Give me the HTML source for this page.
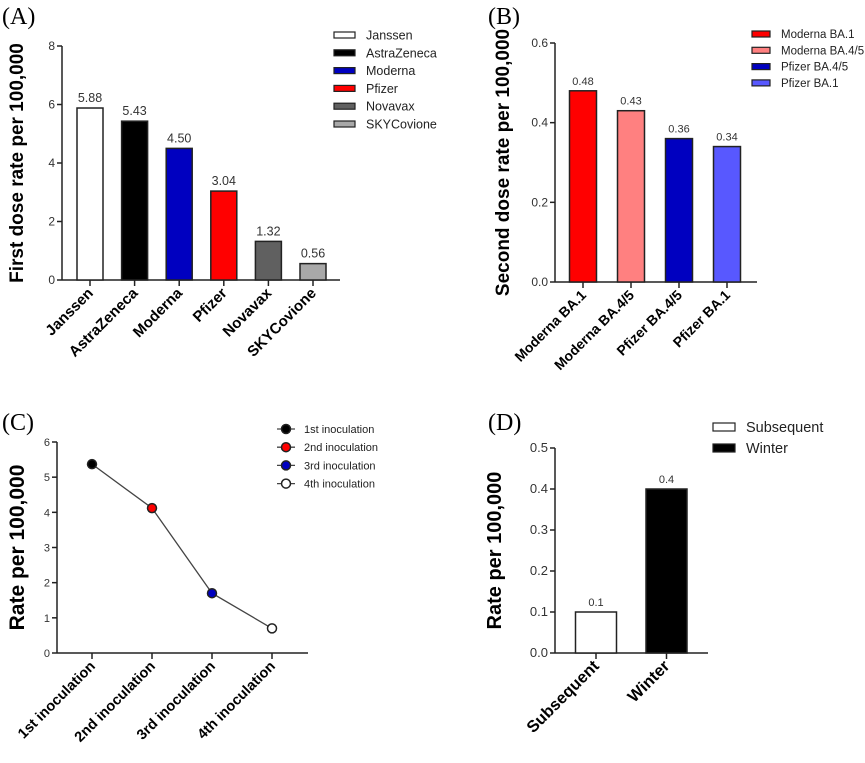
<!DOCTYPE html>
<html><head><meta charset="utf-8"><style>
body{margin:0;background:#fff;}
svg{display:block;font-family:"Liberation Sans",Arial,sans-serif;}
.pl{font-family:"Liberation Serif",serif;font-size:24px;fill:#000;}
</style></head><body>
<svg id="s" width="865" height="763" viewBox="0 0 865 763" xmlns="http://www.w3.org/2000/svg">
<text class="pl" x="2" y="24">(A)</text>
<text class="pl" x="488" y="24">(B)</text>
<text class="pl" x="2" y="430">(C)</text>
<text class="pl" x="488" y="430">(D)</text>
</svg>
<script>
const aCats=["Janssen","AstraZeneca","Moderna","Pfizer","Novavax","SKYCovione"];
const aVals=[5.88,5.43,4.50,3.04,1.32,0.56];
const aLabels=["5.88","5.43","4.50","3.04","1.32","0.56"];
const aTicks=[0,2,4,6,8];
const aColors=["#ffffff","#000000","#0000c0","#ff0000","#606060","#a8a8a8"];

const bCats=["Moderna BA.1","Moderna BA.4/5","Pfizer BA.4/5","Pfizer BA.1"];
const bVals=[0.48,0.43,0.36,0.34];
const bLabels=["0.48","0.43","0.36","0.34"];
const bTicks=["0.0","0.2","0.4","0.6"];
const bColors=["#ff0000","#ff8080","#0000c0","#5858ff"];

const cCats=["1st inoculation","2nd inoculation","3rd inoculation","4th inoculation"];
const cVals=[5.37,4.12,1.70,0.70];
const cTicks=[0,1,2,3,4,5,6];
const cColors=["#000000","#ff0000","#0000c0","#ffffff"];

const dCats=["Subsequent","Winter"];
const dVals=[0.1,0.4];
const dLabels=["0.1","0.4"];
const dTicks=["0.0","0.1","0.2","0.3","0.4","0.5"];
const dColors=["#ffffff","#000000"];

const svg=document.getElementById('s');
const NS="http://www.w3.org/2000/svg";
function mk(tag,attrs,parent,txt){const e=document.createElementNS(NS,tag);for(const k in attrs)e.setAttribute(k,attrs[k]);if(txt!==undefined)e.textContent=txt;(parent||svg).appendChild(e);return e;}

function panel(o){
  const g=mk('g',{});
  
  
  const y=v=>o.y0-(v-o.ymin)/(o.ymax-o.ymin)*(o.y0-o.y1);
  const x=i=>o.xc0+i*o.step;
  const ya=mk('line',{x1:o.ax,y1:o.y1,x2:o.ax,y2:o.y0,stroke:'#222','stroke-width':1.5},g);
  
  
  const xa=mk('line',{x1:o.ax,y1:o.y0,x2:o.xend,y2:o.y0,stroke:'#222','stroke-width':1.5},g);
  
  
  o.ticks.forEach(t=>{
    const v=parseFloat(t);
    mk('line',{x1:o.ax-5,y1:y(v),x2:o.ax,y2:y(v),stroke:'#222','stroke-width':1.5},g);
    const tl=mk('text',{x:o.ax-7,y:y(v)+4,'text-anchor':'end','font-size':o.tfs,fill:'#333'},g,String(t));
    
    
  });
  o.cats.forEach((c,i)=>{
    mk('line',{x1:x(i),y1:o.y0,x2:x(i),y2:o.y0+6,stroke:'#222','stroke-width':1.5},g);
    const cl=mk('text',{x:x(i)+4,y:o.y0+14,'text-anchor':'end','font-size':o.cfs,'font-weight':'bold',fill:'#000',transform:`rotate(-45 ${x(i)+4} ${o.y0+14})`},g,c);
    
    
  });
  const tt=mk('text',{x:o.tx,y:(o.y0+o.y1)/2,'text-anchor':'middle','font-size':o.tsz,'font-weight':'bold',fill:'#000',transform:`rotate(-90 ${o.tx} ${(o.y0+o.y1)/2})`},g,o.title);
  
  
  return {g,x,y};
}

function bars(o,p){
  o.vals.forEach((v,i)=>{
    const r=mk('rect',{x:p.x(i)-o.bw/2,y:p.y(v),width:o.bw,height:o.y0-p.y(v),fill:o.colors[i],stroke:'#222','stroke-width':1.5},p.g);
    
    
    const l=mk('text',{x:p.x(i),y:p.y(v)-6,'text-anchor':'middle','font-size':o.vfs,fill:'#333'},p.g,o.labels[i]);
    
    
  });
}
function legendBars(o,p){
  o.cats.forEach((c,i)=>{
    const yy=o.ly0+i*o.lstep;
    const s=mk('rect',{x:o.lx,y:yy-o.sh/2,width:o.sw,height:o.sh,fill:o.colors[i],stroke:'#222','stroke-width':1.2},p.g);
    
    
    const t=mk('text',{x:o.lx+o.sw+11,y:yy+o.lfs*0.36,'font-size':o.lfs,fill:'#222'},p.g,c);
    
    
  });
}

const oA={name:'chart-a',cats:aCats,vals:aVals,labels:aLabels,ticks:aTicks,colors:aColors,ymin:0,ymax:8,y0:280,y1:46,ax:62,xend:340,xc0:90,step:44.6,bw:26,tfs:12,cfs:15,tsz:19,tx:23,title:'First dose rate per 100,000',vfs:12.5,lx:334,ly0:35,lstep:17.8,sw:21,sh:6,lfs:12.5};
const pA=panel(oA);bars(oA,pA);legendBars(oA,pA);

const oB={name:'chart-b',cats:bCats,vals:bVals,labels:bLabels,ticks:bTicks,colors:bColors,ymin:0,ymax:0.6,y0:282,y1:43,ax:555,xend:757,xc0:583,step:48,bw:27,tfs:12,cfs:14,tsz:19,tx:509,title:'Second dose rate per 100,000',vfs:11,lx:752,ly0:34,lstep:16.3,sw:18,sh:6,lfs:11.5};
const pB=panel(oB);bars(oB,pB);legendBars(oB,pB);

const oC={name:'chart-c',cats:cCats,ticks:cTicks,ymin:0,ymax:6,y0:653,y1:442,ax:57,xend:308,xc0:92,step:60,tfs:11,cfs:14.5,tsz:21,tx:24,title:'Rate per 100,000'};
const pC=panel(oC);
const pts=cVals.map((v,i)=>`${pC.x(i)},${pC.y(v)}`).join(' ');
const ln=mk('polyline',{points:pts,fill:'none',stroke:'#444','stroke-width':1.3},pC.g);


cVals.forEach((v,i)=>{
  const c=mk('circle',{cx:pC.x(i),cy:pC.y(v),r:4.5,fill:cColors[i],stroke:'#222','stroke-width':1.5},pC.g);
  
  
});
cCats.forEach((c,i)=>{
  const yy=429+i*18.2;
  mk('line',{x1:277,y1:yy,x2:295,y2:yy,stroke:'#444','stroke-width':1.3},pC.g);
  const m=mk('circle',{cx:286,cy:yy,r:4.5,fill:cColors[i],stroke:'#222','stroke-width':1.5},pC.g);
  
  
  const t=mk('text',{x:304,y:yy+4,'font-size':11,fill:'#222'},pC.g,c);
  
  
});

const oD={name:'chart-d',cats:dCats,vals:dVals,labels:dLabels,ticks:dTicks,colors:dColors,ymin:0,ymax:0.5,y0:653,y1:448,ax:555,xend:708,xc0:596,step:70.5,bw:41,tfs:13,cfs:16.5,tsz:20,tx:501,title:'Rate per 100,000',vfs:11,lx:713,ly0:427,lstep:21,sw:22,sh:8,lfs:14.5};
const pD=panel(oD);bars(oD,pD);legendBars(oD,pD);
</script>
</body></html>
